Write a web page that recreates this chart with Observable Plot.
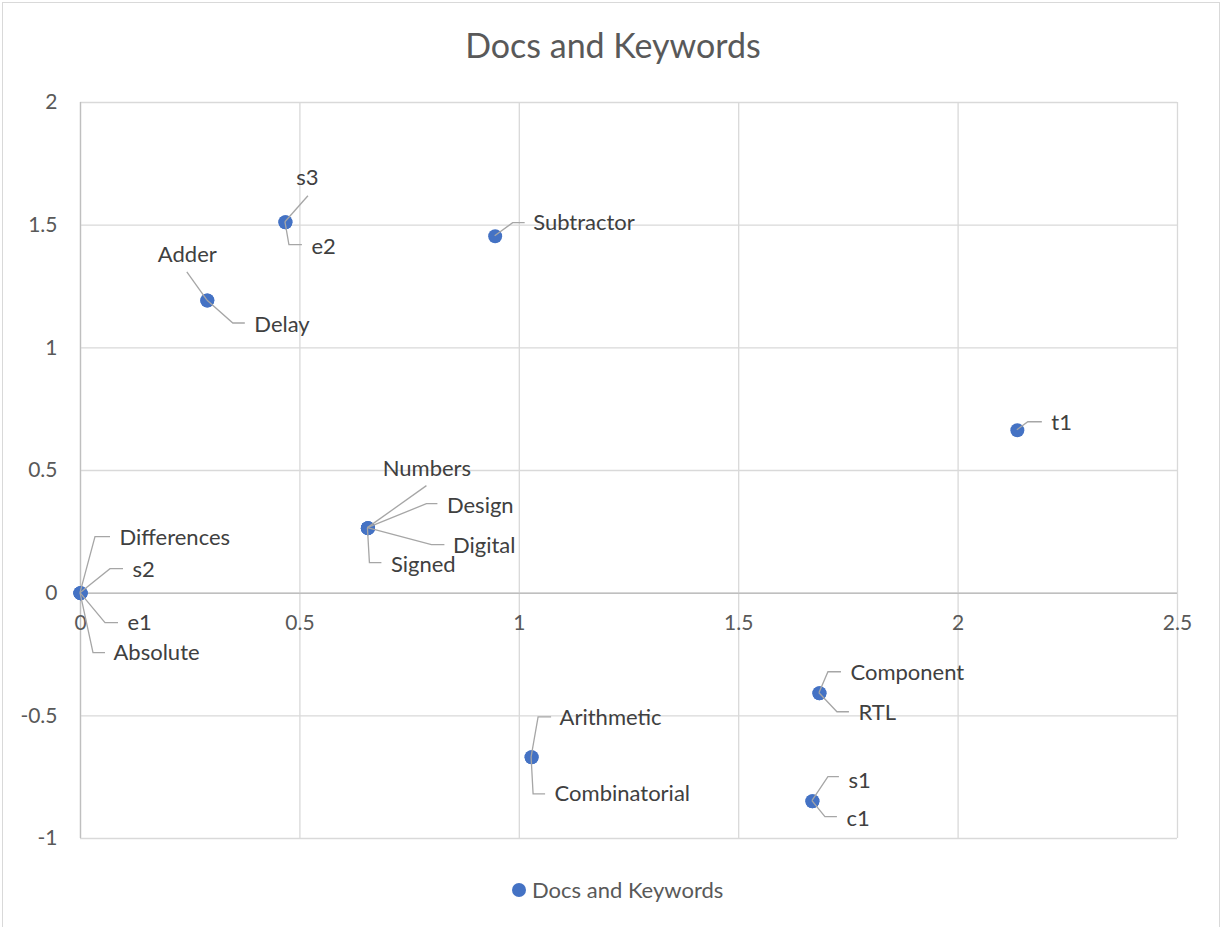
<!DOCTYPE html>
<html>
<head>
<meta charset="utf-8">
<script src="https://cdn.jsdelivr.net/npm/d3@7"></script>
<script src="https://cdn.jsdelivr.net/npm/@observablehq/plot@0.6"></script>
<style>
  html, body { margin: 0; padding: 0; background: #fff; }
  #wrap { position: relative; width: 1225px; height: 927px; overflow: hidden; background: #fff; font-family: Lato, "Open Sans", sans-serif; }
  #border { position: absolute; left: 2px; top: 2px; width: 1218px; height: 960px; border: 1px solid #d9d9d9; box-sizing: border-box; }
  #chart { position: absolute; left: 0; top: 0; }
  #legend { position: absolute; top: 876px; left: 512px; display: flex; align-items: center; color: #595959; font-size: 22px; white-space: nowrap; }
  #legend .sw { width: 14px; height: 14px; border-radius: 50%; background: #4472C4; margin-right: 6px; }
</style>
</head>
<body>
<div id="wrap">
  <div id="border"></div>
  <div id="chart"></div>
  <div id="legend"><span class="sw"></span><span>Docs and Keywords</span></div>
</div>
<script>
// ---- data ----
const title = "Docs and Keywords";
const labels = ["Differences", "s2", "e1", "Absolute", "s3", "e2", "Adder", "Delay", "Subtractor", "t1",
                "Numbers", "Design", "Digital", "Signed", "Arithmetic", "Combinatorial", "Component", "RTL", "s1", "c1"];
const xValues = [0, 0, 0, 0, 0.467, 0.467, 0.289, 0.289, 0.945, 2.135,
                 0.655, 0.655, 0.655, 0.655, 1.028, 1.028, 1.684, 1.684, 1.668, 1.668];
const yValues = [0, 0, 0, 0, 1.512, 1.512, 1.193, 1.193, 1.455, 0.664,
                 0.265, 0.265, 0.265, 0.265, -0.669, -0.669, -0.408, -0.408, -0.848, -0.848];
const xTicks = [0, 0.5, 1, 1.5, 2, 2.5];
const yTicks = [-1, -0.5, 0, 0.5, 1, 1.5, 2];
const xTickLabels = ["0", "0.5", "1", "1.5", "2", "2.5"];
const yTickLabels = ["-1", "-0.5", "0", "0.5", "1", "1.5", "2"];

// ---- label layout (pixel offsets from each point: text position, leader path) ----
const layout = {
  "Differences":   {t: [39, -55], a: "start",  p: [[15, -56], [30, -56]]},
  "s2":            {t: [52, -23], a: "start",  p: [[30, -24], [43, -24]]},
  "e1":            {t: [47, 30],  a: "start",  p: [[25, 30], [38, 30]]},
  "Absolute":      {t: [33, 60],  a: "start",  p: [[13, 60], [25, 60]]},
  "s3":            {t: [22, -44], a: "middle", p: [[23, -26]]},
  "e2":            {t: [26, 25],  a: "start",  p: [[4, 23], [17, 23]]},
  "Adder":         {t: [-20, -46], a: "middle", p: [[-20, -28]]},
  "Delay":         {t: [47, 24],  a: "start",  p: [[26, 23], [38, 23]]},
  "Subtractor":    {t: [38, -13], a: "start",  p: [[18, -13], [30, -13]]},
  "t1":            {t: [34, -7],  a: "start",  p: [[11, -8], [25, -8]]},
  "Numbers":       {t: [59, -59], a: "middle", p: [[59, -42]]},
  "Design":        {t: [79, -22], a: "start",  p: [[59, -24], [70, -24]]},
  "Digital":       {t: [85, 18],  a: "start",  p: [[64, 17], [77, 17]]},
  "Signed":        {t: [23, 37],  a: "start",  p: [[2, 35], [14, 35]]},
  "Arithmetic":    {t: [28, -39], a: "start",  p: [[7, -40], [20, -40]]},
  "Combinatorial": {t: [23, 37],  a: "start",  p: [[2, 37], [14, 37]]},
  "Component":     {t: [31, -20], a: "start",  p: [[9, -21], [22, -21]]},
  "RTL":           {t: [39, 20],  a: "start",  p: [[18, 19], [30, 19]]},
  "s1":            {t: [36, -20], a: "start",  p: [[16, -24], [27, -24]]},
  "c1":            {t: [34, 18],  a: "start",  p: [[13, 16], [25, 16]]}
};

const pts = labels.map((name, i) => ({name, x: xValues[i], y: yValues[i]}));

const gridColor = "#d9d9d9";
const axisColor = "#bfbfbf";
const font = "Lato, 'Open Sans', sans-serif";

function leaderLines(index, scales) {
  const g = d3.create("svg:g").attr("fill", "none").attr("stroke", "#a6a6a6").attr("stroke-width", 1.3);
  for (const d of pts) {
    const px = scales.x(d.x), py = scales.y(d.y);
    const L = layout[d.name];
    const coords = [[px, py], ...L.p.map(([dx, dy]) => [px + dx, py + dy])];
    g.append("polyline").attr("points", coords.map(c => c.join(",")).join(" "));
  }
  return g.node();
}

const labelMarks = pts.map(d => {
  const L = layout[d.name];
  return Plot.text([d], {
    x: "x", y: "y", text: "name",
    dx: L.t[0], dy: L.t[1], textAnchor: L.a,
    fill: "#404040", fontSize: 22, fontFamily: font
  });
});

const chart = Plot.plot({
  width: 1225,
  height: 927,
  marginLeft: 80,
  marginRight: 48,
  marginTop: 102,
  marginBottom: 89,
  style: {background: "transparent", fontFamily: font},
  x: {domain: [0, 2.5], axis: null},
  y: {domain: [-1, 2], axis: null},
  marks: [
    Plot.ruleX(xTicks, {stroke: gridColor, strokeWidth: 1.3}),
    Plot.ruleY(yTicks, {stroke: gridColor, strokeWidth: 1.3}),
    Plot.ruleX([0], {stroke: axisColor, strokeWidth: 1.3}),
    Plot.ruleY([0], {stroke: axisColor, strokeWidth: 1.5}),
    Plot.text(yTicks, {y: d => d, text: (d, i) => yTickLabels[i], frameAnchor: "left", dx: -23, textAnchor: "end",
      fill: "#595959", fontSize: 21, fontFamily: font}),
    Plot.text(xTicks, {x: d => d, y: () => 0, text: (d, i) => xTickLabels[i], dy: 30, textAnchor: "middle",
      fill: "#595959", fontSize: 21, fontFamily: font}),
    Plot.text([title], {frameAnchor: "top", lineAnchor: "middle", dx: -16, dy: -55, text: d => d, fill: "#595959", fontSize: 34, fontFamily: font}),
    Plot.dot(pts, {x: "x", y: "y", r: 7, fill: "#4472C4", stroke: "none"}),
    leaderLines,
    ...labelMarks
  ]
});
document.getElementById("chart").appendChild(chart);
</script>
</body>
</html>
